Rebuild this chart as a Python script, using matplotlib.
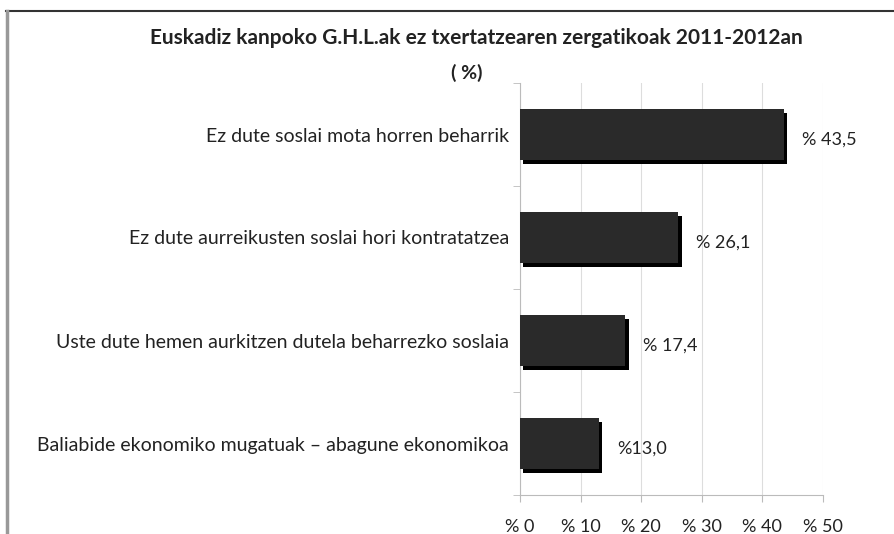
import matplotlib.pyplot as plt
import matplotlib.patheffects as pe
from matplotlib.lines import Line2D

categories = ["Ez dute soslai mota horren beharrik",
              "Ez dute aurreikusten soslai hori kontratatzea",
              "Uste dute hemen aurkitzen dutela beharrezko soslaia",
              "Baliabide ekonomiko mugatuak – abagune ekonomikoa"]
values = [43.5, 26.1, 17.4, 13.0]
value_labels = ["% 43,5", "% 26,1", "% 17,4", "%13,0"]
xticks = [0, 10, 20, 30, 40, 50]
xtick_labels = ["% 0", "% 10", "% 20", "% 30", "% 40", "% 50"]

plt.rcParams['font.family'] = ['Lato', 'DejaVu Sans']

fig = plt.figure(figsize=(8.95, 5.34), dpi=100)
ax = fig.add_axes([520 / 895, 1 - 495 / 534, 303 / 895, 412 / 534])

ypos = list(range(len(categories)))
bars = ax.barh(ypos, values, height=0.5, color='#2a2a2a', zorder=3)
for b in bars:
    b.set_path_effects([pe.SimplePatchShadow(offset=(2.5, -3), shadow_rgbFace='black', alpha=1.0),
                        pe.Normal()])

for y, v, t in zip(ypos, values, value_labels):
    ax.annotate(t, (v, y), xytext=(13, -4), textcoords='offset points',
                va='center', ha='left', fontsize=13, color='#222222')

ax.set_xlim(0, 50)
ax.set_ylim(len(categories) - 0.5, -0.5)
ax.set_xticks(xticks)
ax.set_xticklabels(xtick_labels, fontsize=13, color='#222222')
ax.set_yticks(ypos)
ax.set_yticklabels(categories, fontsize=14, color='#222222')
ax.tick_params(axis='y', length=0, pad=8)
ax.set_yticks([-0.5, 0.5, 1.5, 2.5, 3.5], minor=True)
ax.tick_params(axis='y', which='minor', length=5, color='#bbbbbb', direction='out')
ax.tick_params(axis='x', length=5, color='#bbbbbb', pad=12)
ax.grid(axis='x', color='#dddddd', linewidth=0.8, zorder=0)
for s in ['top', 'right']:
    ax.spines[s].set_visible(False)
for s in ['left', 'bottom']:
    ax.spines[s].set_color('#bbbbbb')

fig.text(476 / 895, 1 - 38 / 534, "Euskadiz kanpoko G.H.L.ak ez txertatzearen zergatikoak 2011-2012an",
         ha='center', va='center', fontsize=15, fontweight='bold', color='#222222')
fig.text(467 / 895, 1 - 73 / 534, "( %)", ha='center', va='center', fontsize=14,
         fontweight='bold', color='#222222')

# outer frame pieces
fig.add_artist(Line2D([6 / 895, 893 / 895], [1 - 11 / 534, 1 - 11 / 534], color='#333333', linewidth=1.5))
fig.add_artist(Line2D([7 / 895, 7 / 895], [0, 1 - 11 / 534], color='#999999', linewidth=2.5))

fig.savefig('out.png', dpi=100)
